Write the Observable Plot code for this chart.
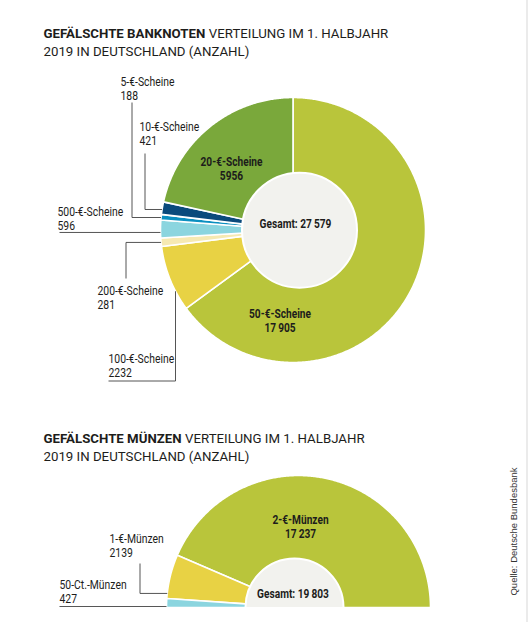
<!DOCTYPE html>
<html>
<head>
<meta charset="utf-8">
<script src="https://cdn.jsdelivr.net/npm/d3@7"></script>
<script src="https://cdn.jsdelivr.net/npm/@observablehq/plot@0.6"></script>
<style>
  html, body { margin: 0; padding: 0; background: #fff; }
  #root { position: relative; width: 526px; height: 622px; border-right: 2px solid #ebebeb; background: #fff; overflow: hidden; }
  #root svg { display: block; overflow: hidden !important; }
</style>
</head>
<body>
<div id="root"></div>
<script>
// ---------------- DATA ----------------
const noteCategories = ["50-€-Scheine", "100-€-Scheine", "200-€-Scheine", "500-€-Scheine", "5-€-Scheine", "10-€-Scheine", "20-€-Scheine"];
const noteValues = [17905, 2232, 281, 596, 188, 421, 5956];
const coinCategories = ["2-€-Münzen", "1-€-Münzen", "50-Ct.-Münzen"];
const coinValues = [17237, 2139, 427];
const titleBold = ["GEFÄLSCHTE BANKNOTEN", "GEFÄLSCHTE MÜNZEN"];
const titleRest = [" VERTEILUNG IM 1. HALBJAHR", " VERTEILUNG IM 1. HALBJAHR"];
const titleLine2 = ["2019 IN DEUTSCHLAND (ANZAHL)", "2019 IN DEUTSCHLAND (ANZAHL)"];
const totalPrefix = "Gesamt: ";
const sourceText = "Quelle: Deutsche Bundesbank";

// ---------------- STYLE ----------------
const noteColors = ["#b9c53b", "#e8d244", "#f6e9b2", "#8bd5df", "#0b8fc0", "#0a4a7c", "#7aa83b"];
const coinColors = ["#b9c53b", "#e8d244", "#8bd5df"];
const textColor = "#1d1d1b";
const leaderColor = "#555";

// ---------------- LAYOUT ----------------
const W = 526, H = 607;
const noteGeo = {cx: 292.5, cy: 229.5, R: 132.5, start: 0, dir: 1, span: 360, hole: {cx: 299, cy: 229.7, r: 57.5}};
const coinGeo = {cx: 298, cy: 607, R: 132, start: 90, dir: -1, span: 180, hole: {cx: 294, cy: 607, r: 49}};
const noteOuterLabels = [
  {cat: "5-€-Scheine", x: 120, y: 85, leader: {f: 0.45, type: "h", kneeX: 131.5, endY: 102}},
  {cat: "10-€-Scheine", x: 139, y: 130, leader: {f: 0.39, type: "h", kneeX: 144.5, endY: 153}},
  {cat: "500-€-Scheine", x: 57, y: 215, leader: {f: 0.31, type: "h", kneeX: 59}},
  {cat: "200-€-Scheine", x: 97, y: 294, leader: {f: 0.48, type: "h", kneeX: 125.5, endY: 278}},
  {cat: "100-€-Scheine", x: 108, y: 362, leader: {f: 0.30, type: "v", kneeY: 380.5, endX: 108}}
];
const noteInnerLabels = [
  {cat: "20-€-Scheine", x: 231, y: 165},
  {cat: "50-€-Scheine", x: 279.5, y: 317}
];
const noteTotalPos = {x: 295, y: 227};
const coinOuterLabels = [
  {cat: "1-€-Münzen", x: 109, y: 542, leader: {f: 0.885, type: "h", kneeX: 139.5, endY: 563}},
  {cat: "50-Ct.-Münzen", x: 59, y: 588, leader: {f: 0.89, type: "h", kneeX: 59}}
];
const coinInnerLabels = [{cat: "2-€-Münzen", x: 300, y: 523}];
const coinTotalPos = {x: 292.5, y: 597};
const titlePos = [{x: 43, y: 37}, {x: 43, y: 442}];
const lineGap = 14, titleGap = 18;

// ---------------- FONTS ----------------
const ctx = document.createElement("canvas").getContext("2d");
function tw(t, family, weight = "normal", size = 100) { ctx.font = `${weight} ${size}px ${family}`; return ctx.measureText(t).width; }
function available(name) {
  const s = "abcdefghijklmnopqrstuvwxyz0123456789ABCDEFGHIJ";
  return tw(s, `'${name}', monospace`) !== tw(s, "monospace");
}
const labelFamily = ["Liberation Sans Narrow", "Roboto", "Liberation Sans"].find(available) || "sans-serif";
const LF = `'${labelFamily}'`;
const labelSize = 12.6, boldSize = 12.2;
const regFactor = Math.min(1, 54 / tw("5-€-Scheine", LF, "normal", labelSize));
const boldFactor = Math.min(1, 62 / tw("20-€-Scheine", LF, "bold", boldSize));
const titleFamily = available("Roboto") ? "Roboto" : "Liberation Sans";
const TF = `'${titleFamily}'`;
const titleSize = 100 * 345 / (tw(titleBold[0], TF, "bold") + tw(titleRest[0], TF));
const boldWidthAt = (t) => tw(t, TF, "bold") * titleSize / 100;
const srcSize = 100 * 128 / tw(sourceText, "'Liberation Sans'");

// ---------------- HELPERS ----------------
const fmt = v => v >= 10000 ? String(v).replace(/(\d+)(\d{3})$/, "$1\u2009$2") : String(v);
const rad = a => a * Math.PI / 180;
const pt = (g, a, R = g.R) => [g.cx + R * Math.sin(rad(a)), g.cy - R * Math.cos(rad(a))];
function slices(cats, vals, g) {
  const total = d3.sum(vals); let cum = 0;
  return cats.map((c, i) => {
    const a0 = g.start + g.dir * cum / total * g.span; cum += vals[i];
    const a1 = g.start + g.dir * cum / total * g.span;
    return {category: c, value: vals[i], a0, a1, g};
  });
}
function sectorFeature(s) {
  const lo = Math.min(s.a0, s.a1), hi = Math.max(s.a0, s.a1);
  const n = Math.max(2, Math.ceil((hi - lo) / 0.5));
  const pts = [[s.g.cx, s.g.cy]];
  for (let i = 0; i <= n; i++) pts.push(pt(s.g, lo + (hi - lo) * i / n));
  pts.push([s.g.cx, s.g.cy]);
  return {type: "Feature", properties: {category: s.category}, geometry: {type: "Polygon", coordinates: [pts]}};
}
function leaderPoints(s, L, id) {
  const a = s.a0 + (s.a1 - s.a0) * L.f;
  const [xa, ya] = pt(s.g, a);
  let p;
  if (L.type === "h") { p = [[xa, ya], [L.kneeX, ya]]; if (L.endY != null) p.push([L.kneeX, L.endY]); }
  else p = [[xa, ya], [xa, L.kneeY], [L.endX, L.kneeY]];
  return p.map(([x, y]) => ({id, x, y}));
}

const noteSlices = slices(noteCategories, noteValues, noteGeo);
const coinSlices = slices(coinCategories, coinValues, coinGeo);
const allSlices = [...noteSlices, ...coinSlices];
const byCat = new Map(allSlices.map(s => [s.category, s]));
const features = allSlices.map(sectorFeature);

const outerLabels = [...noteOuterLabels, ...coinOuterLabels];
const innerLabels = [...noteInnerLabels, ...coinInnerLabels];
const leaders = outerLabels.flatMap((l, i) => leaderPoints(byCat.get(l.cat), l.leader, i));
const totals = [
  {x: noteTotalPos.x, y: noteTotalPos.y, text: totalPrefix + fmt(d3.sum(noteValues))},
  {x: coinTotalPos.x, y: coinTotalPos.y, text: totalPrefix + fmt(d3.sum(coinValues))}
];
const mid = (size) => 0.32 * size; // baseline -> middle offset

const titlesBold = titleBold.map((t, i) => ({x: titlePos[i].x, y: titlePos[i].y, text: t}));
const titlesRest = titleRest.map((t, i) => ({x: titlePos[i].x + boldWidthAt(titleBold[i]), y: titlePos[i].y, text: t}));
const titles2 = titleLine2.map((t, i) => ({x: titlePos[i].x, y: titlePos[i].y + titleGap, text: t}));

// the strings drawn in the condensed label font
const regStrings = new Set(outerLabels.flatMap(d => [d.cat, fmt(byCat.get(d.cat).value)]));
const boldStrings = new Set([...innerLabels.flatMap(d => [d.cat, fmt(byCat.get(d.cat).value)]), ...totals.map(d => d.text)]);

const chart = Plot.plot({
  width: W, height: H, margin: 0,
  x: {domain: [0, W], range: [0, W], axis: null},
  y: {domain: [0, H], range: [0, H], axis: null},
  color: {type: "ordinal", domain: [...noteCategories, ...coinCategories], range: [...noteColors, ...coinColors]},
  style: {background: "#fff", color: textColor},
  marks: [
    Plot.geo(features, {fill: d => d.properties.category, stroke: "white", strokeWidth: 1.6, strokeLinejoin: "round"}),
    Plot.dot([noteGeo.hole], {x: "cx", y: "cy", r: noteGeo.hole.r, fill: "#f2f2ee", stroke: "white", strokeWidth: 2}),
    Plot.dot([coinGeo.hole], {x: "cx", y: "cy", r: coinGeo.hole.r, fill: "#f2f2ee", stroke: "white", strokeWidth: 2}),
    Plot.line(leaders, {x: "x", y: "y", z: "id", stroke: leaderColor, strokeWidth: 1, strokeLinecap: "butt", strokeLinejoin: "miter"}),
    // outer labels
    Plot.text(outerLabels, {x: "x", y: d => d.y - mid(labelSize), text: d => d.cat, textAnchor: "start", fontFamily: LF, fontSize: labelSize, fill: textColor}),
    Plot.text(outerLabels, {x: "x", y: d => d.y + lineGap - mid(labelSize), text: d => fmt(byCat.get(d.cat).value), textAnchor: "start", fontFamily: LF, fontSize: labelSize, fill: textColor}),
    // inner labels
    Plot.text(innerLabels, {x: "x", y: d => d.y - mid(boldSize), text: d => d.cat, fontFamily: LF, fontWeight: "bold", fontSize: boldSize, fill: textColor}),
    Plot.text(innerLabels, {x: "x", y: d => d.y + lineGap - mid(boldSize), text: d => fmt(byCat.get(d.cat).value), fontFamily: LF, fontWeight: "bold", fontSize: boldSize, fill: textColor}),
    Plot.text(totals, {x: "x", y: d => d.y - mid(boldSize), text: "text", fontFamily: LF, fontWeight: "bold", fontSize: boldSize, fill: textColor}),
    // titles
    Plot.text(titlesBold, {x: "x", y: d => d.y - mid(titleSize), text: "text", textAnchor: "start", fontFamily: TF, fontWeight: "bold", fontSize: titleSize, fill: textColor}),
    Plot.text(titlesRest, {x: "x", y: d => d.y - mid(titleSize), text: "text", textAnchor: "start", fontFamily: TF, fontSize: titleSize, fill: textColor}),
    Plot.text(titles2, {x: "x", y: d => d.y - mid(titleSize), text: "text", textAnchor: "start", fontFamily: TF, fontSize: titleSize, fill: textColor}),
    // source
    Plot.text([{x: 513.5, y: 595, text: sourceText}], {x: "x", y: "y", text: "text", rotate: -90, textAnchor: "start", fontFamily: "'Liberation Sans'", fontSize: srcSize, fill: "#333"})
  ]
});

// condense the label font horizontally to the reference proportions
chart.querySelectorAll("text").forEach(el => {
  const t = el.textContent;
  let w = null;
  if (regStrings.has(t) && regFactor < 0.999) w = tw(t, LF, "normal", labelSize) * regFactor;
  else if (boldStrings.has(t) && boldFactor < 0.999) w = tw(t, LF, "bold", boldSize) * boldFactor;
  if (w != null) {
    el.setAttribute("textLength", w.toFixed(2));
    el.setAttribute("lengthAdjust", "spacingAndGlyphs");
  }
});

document.getElementById("root").appendChild(chart);
</script>
</body>
</html>
